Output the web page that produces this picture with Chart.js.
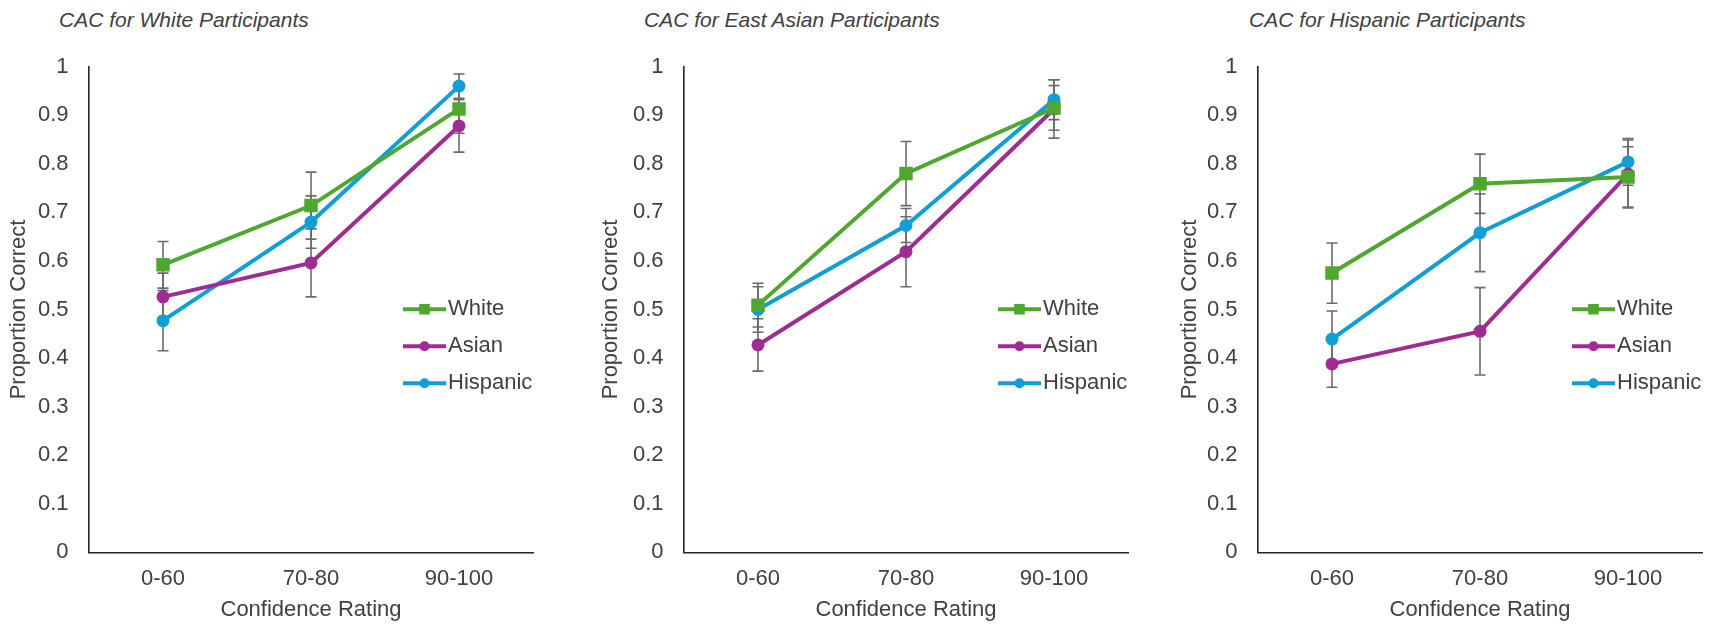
<!DOCTYPE html>
<html>
<head>
<meta charset="utf-8">
<script src="https://cdn.jsdelivr.net/npm/chart.js@4/dist/chart.umd.min.js"></script>
<style>
  body { margin: 0; background: #fff; width: 1719px; height: 628px; overflow: hidden; position: relative; }
  canvas { position: absolute; top: 0; }
  .title { position: absolute; top: 8px; font: italic 21px "Liberation Sans", Arial, sans-serif; color: #404040; white-space: nowrap; line-height: 24px; }
</style>
</head>
<body>
<div class="title" style="left:59px">CAC for White Participants</div>
<div class="title" style="left:644px">CAC for East Asian Participants</div>
<div class="title" style="left:1249px">CAC for Hispanic Participants</div>
<canvas id="c1" width="573" height="628" style="left:0px"></canvas>
<canvas id="c2" width="573" height="628" style="left:573px"></canvas>
<canvas id="c3" width="573" height="628" style="left:1146px"></canvas>
<script>
const categories = ['0-60', '70-80', '90-100'];
const seriesNames = ['White', 'Asian', 'Hispanic'];
const yTicks = [0, 0.1, 0.2, 0.3, 0.4, 0.5, 0.6, 0.7, 0.8, 0.9, 1];

// CAC for White Participants
const whiteP1 = [0.592, 0.714, 0.913];
const asianP1 = [0.526, 0.596, 0.878];
const hispP1 = [0.477, 0.680, 0.960];
const whiteErrP1 = [0.048, 0.069, 0.050];
const asianErrP1 = [0.049, 0.070, 0.054];
const hispErrP1 = [0.062, 0.054, 0.025];

// CAC for East Asian Participants
const whiteP2 = [0.509, 0.780, 0.915];
const asianP2 = [0.427, 0.619, 0.913];
const hispP2 = [0.500, 0.673, 0.932];
const whiteErrP2 = [0.045, 0.066, 0.046];
const asianErrP2 = [0.054, 0.072, 0.060];
const hispErrP2 = [0.047, 0.035, 0.041];

// CAC for Hispanic Participants
const whiteP3 = [0.575, 0.759, 0.773];
const asianP3 = [0.388, 0.455, 0.779];
const hispP3 = [0.439, 0.658, 0.804];
const whiteErrP3 = [0.062, 0.061, 0.062];
const asianErrP3 = [0.048, 0.090, 0.070];
const hispErrP3 = [0.058, 0.080, 0.048];

const colors = ['#4ea72e', '#a02b93', '#0f9ed5'];
const styles = ['rect', 'circle', 'circle'];
const FONT = '"Liberation Sans", Arial, sans-serif';
const TEXT = '#404040';

// error bars, drawn under the lines
const errorBars = {
  id: 'errorBars',
  beforeDatasetsDraw(chart) {
    const ctx = chart.ctx, y = chart.scales.y;
    ctx.save();
    ctx.strokeStyle = '#6b6b6b';
    ctx.lineWidth = 1.6;
    chart.data.datasets.forEach((ds, i) => {
      chart.getDatasetMeta(i).data.forEach((pt, j) => {
        const top = y.getPixelForValue(ds.data[j] + ds.errors[j]);
        const bot = y.getPixelForValue(ds.data[j] - ds.errors[j]);
        ctx.beginPath();
        ctx.moveTo(pt.x, top); ctx.lineTo(pt.x, bot);
        ctx.moveTo(pt.x - 5.5, top); ctx.lineTo(pt.x + 5.5, top);
        ctx.moveTo(pt.x - 5.5, bot); ctx.lineTo(pt.x + 5.5, bot);
        ctx.stroke();
      });
    });
    ctx.restore();
  }
};

// legend inside the plot area
const insideLegend = {
  id: 'insideLegend',
  afterDraw(chart) {
    const ctx = chart.ctx, area = chart.chartArea;
    const x0 = area.left + 314, len = 43;
    ctx.save();
    chart.data.datasets.forEach((ds, i) => {
      const yy = area.top + 242.5 + i * 37;
      ctx.strokeStyle = ds.borderColor;
      ctx.lineWidth = 4;
      ctx.beginPath(); ctx.moveTo(x0, yy); ctx.lineTo(x0 + len, yy); ctx.stroke();
      ctx.fillStyle = ds.borderColor;
      Chart.helpers.drawPoint(ctx, {pointStyle: ds.pointStyle, radius: ds.pointStyle === 'rect' ? 7.5 : 5, borderWidth: 0}, x0 + len / 2, yy);
      ctx.fillStyle = TEXT;
      ctx.font = '22px ' + FONT;
      ctx.textBaseline = 'middle';
      ctx.textAlign = 'left';
      ctx.fillText(ds.label, x0 + len + 2, yy);
    });
    ctx.restore();
  }
};

function makeChart(id, values, errors, yWidth, padRight, yTitlePad) {
  const datasets = values.map((v, i) => ({
    label: seriesNames[i],
    data: v,
    errors: errors[i],
    borderColor: colors[i],
    backgroundColor: colors[i],
    pointBackgroundColor: colors[i],
    pointBorderColor: colors[i],
    pointBorderWidth: 0,
    pointStyle: styles[i],
    pointRadius: styles[i] === 'rect' ? 9.5 : 6.5,
    borderWidth: 4,
    tension: 0
  }));
  return new Chart(document.getElementById(id), {
    type: 'line',
    data: { labels: categories, datasets: datasets },
    plugins: [errorBars, insideLegend],
    options: {
      responsive: false,
      animation: false,
      layout: { padding: { left: 0, right: padRight, top: 66.7, bottom: 0 } },
      plugins: { legend: { display: false }, tooltip: { enabled: false } },
      scales: {
        x: {
          offset: true,
          grid: { display: false, drawTicks: false },
          border: { display: true, color: '#262626', width: 1.6 },
          ticks: { color: TEXT, font: { family: FONT, size: 22 }, padding: 13.5 },
          title: { display: true, text: 'Confidence Rating', color: TEXT, font: { family: FONT, size: 22 }, padding: { top: 0, bottom: 5.3 } },
          afterFit: s => { s.height = 628 - 552.3; }
        },
        y: {
          min: 0, max: 1,
          afterBuildTicks: s => { s.ticks = yTicks.map(v => ({ value: v })); },
          grid: { display: false, drawTicks: false },
          border: { display: true, color: '#262626', width: 1.6 },
          ticks: { color: TEXT, font: { family: FONT, size: 22 }, padding: 20.5, callback: v => String(+v.toFixed(1)) },
          title: { display: true, text: 'Proportion Correct', color: TEXT, font: { family: FONT, size: 22 }, padding: { top: yTitlePad, bottom: 0 } },
          afterFit: s => { s.width = yWidth; }
        }
      }
    }
  });
}

makeChart('c1', [whiteP1, asianP1, hispP1], [whiteErrP1, asianErrP1, hispErrP1], 89, 40, 5.4);
makeChart('c2', [whiteP2, asianP2, hispP2], [whiteErrP2, asianErrP2, hispErrP2], 111, 18, 24.4);
makeChart('c3', [whiteP3, asianP3, hispP3], [whiteErrP3, asianErrP3, hispErrP3], 112, 17, 30.3);
</script>
</body>
</html>
